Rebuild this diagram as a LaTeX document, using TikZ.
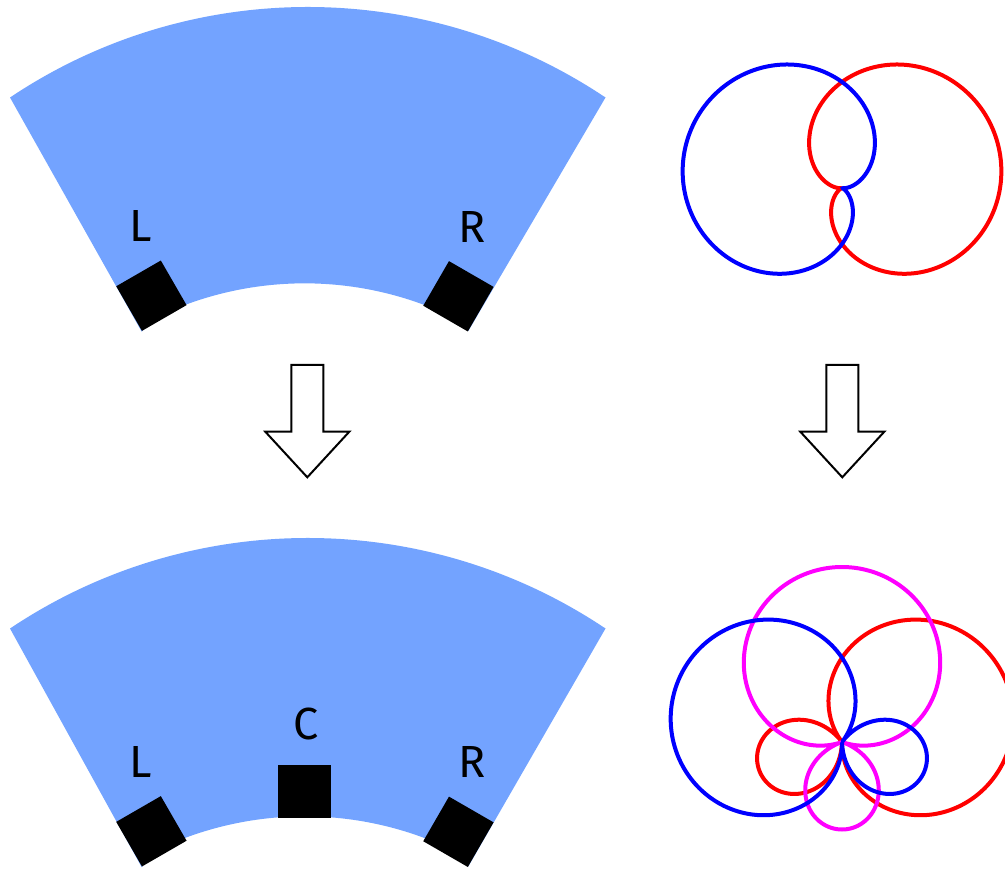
\documentclass[tikz,border=0pt]{standalone}
\usepackage{fontspec}
\setmainfont{Fira Sans}
\definecolor{fanblue}{RGB}{115,163,255}
\definecolor{polblue}{RGB}{0,0,255}
\definecolor{polred}{RGB}{255,0,0}
\definecolor{polmag}{RGB}{255,0,255}
\begin{document}
\begin{tikzpicture}[x=1pt,y=-1pt,
  sq/.style={fill=black, draw=none, inner sep=0pt, minimum size=51.5pt},
  lab/.style={font=\fontsize{45}{45}\selectfont, inner sep=0pt, text=black},
  blockarrow/.style={draw=black, line width=2pt, fill=white, line join=miter},
  pol/.style={line width=4pt, line join=round}
]
\useasboundingbox (0,0) rectangle (1005,869);

% ---------- top-left fan ----------
\fill[fanblue] (10,97.5) arc[start angle=-123.82, end angle=-56.18, radius=535]
  -- (468.3,331) -- (454.65,318) arc[start angle=-63.98, end angle=-116.02, radius=342]
  -- (141.7,331.7) -- cycle;
\node[sq, rotate=30] (sqL1) at (151.4,295.7) {};
\node[sq, rotate=-30] (sqR1) at (458.4,296.3) {};
\node[lab] (labL1) at (140.5,226) {L};
\node[lab] (labR1) at (472,227) {R};

% ---------- bottom-left fan ----------
\fill[fanblue] (10,628.5) arc[start angle=-123.82, end angle=-56.18, radius=535]
  -- (468.3,866.5) -- (454.65,851) arc[start angle=-63.98, end angle=-116.02, radius=342]
  -- (141.7,867.2) -- cycle;
\node[sq, rotate=30] (sqL2) at (151.4,831.3) {};
\node[sq, rotate=-30] (sqR2) at (458.4,831.8) {};
\node[sq, minimum size=52.5pt] (sqC2) at (304.5,791.4) {};
\node[lab] (labL2) at (140.5,762) {L};
\node[lab] (labR2) at (472,762) {R};
\node[lab] (labC2) at (306,724) {C};

% ---------- block arrows ----------
\draw[blockarrow] (291.3,365) -- (323.3,365) -- (323.3,431.7) -- (349.3,431.7)
  -- (307.3,477.3) -- (265.3,431.7) -- (291.3,431.7) -- cycle;
\draw[blockarrow] (826.3,365) -- (858.3,365) -- (858.3,431.7) -- (884.3,431.7)
  -- (842.3,477.3) -- (800.3,431.7) -- (826.3,431.7) -- cycle;

% ---------- top-right polar patterns (cardioids) ----------
\draw[pol, polred] plot[domain=0:360, samples=361]
  ({842+81*(1+cos(\x-18))*cos(\x)}, {188-81*(1+cos(\x-18))*sin(\x)});
\draw[pol, polblue] plot[domain=0:360, samples=361]
  ({842+81*(1+cos(\x-162))*cos(\x)}, {188-81*(1+cos(\x-162))*sin(\x)});

% ---------- bottom-right polar patterns (hypercardioids) ----------
\draw[pol, polred] plot[domain=0:360, samples=361]
  ({842+175*abs(0.25+0.75*cos(\x-18))*cos(\x)}, {742-175*abs(0.25+0.75*cos(\x-18))*sin(\x)});
\draw[pol, polmag] plot[domain=0:360, samples=361]
  ({842+175*abs(0.25+0.75*cos(\x-90))*cos(\x)}, {742-175*abs(0.25+0.75*cos(\x-90))*sin(\x)});
\draw[pol, polblue] plot[domain=0:360, samples=361]
  ({842+175*abs(0.25+0.75*cos(\x-162))*cos(\x)}, {742-175*abs(0.25+0.75*cos(\x-162))*sin(\x)});
\end{tikzpicture}
\end{document}
